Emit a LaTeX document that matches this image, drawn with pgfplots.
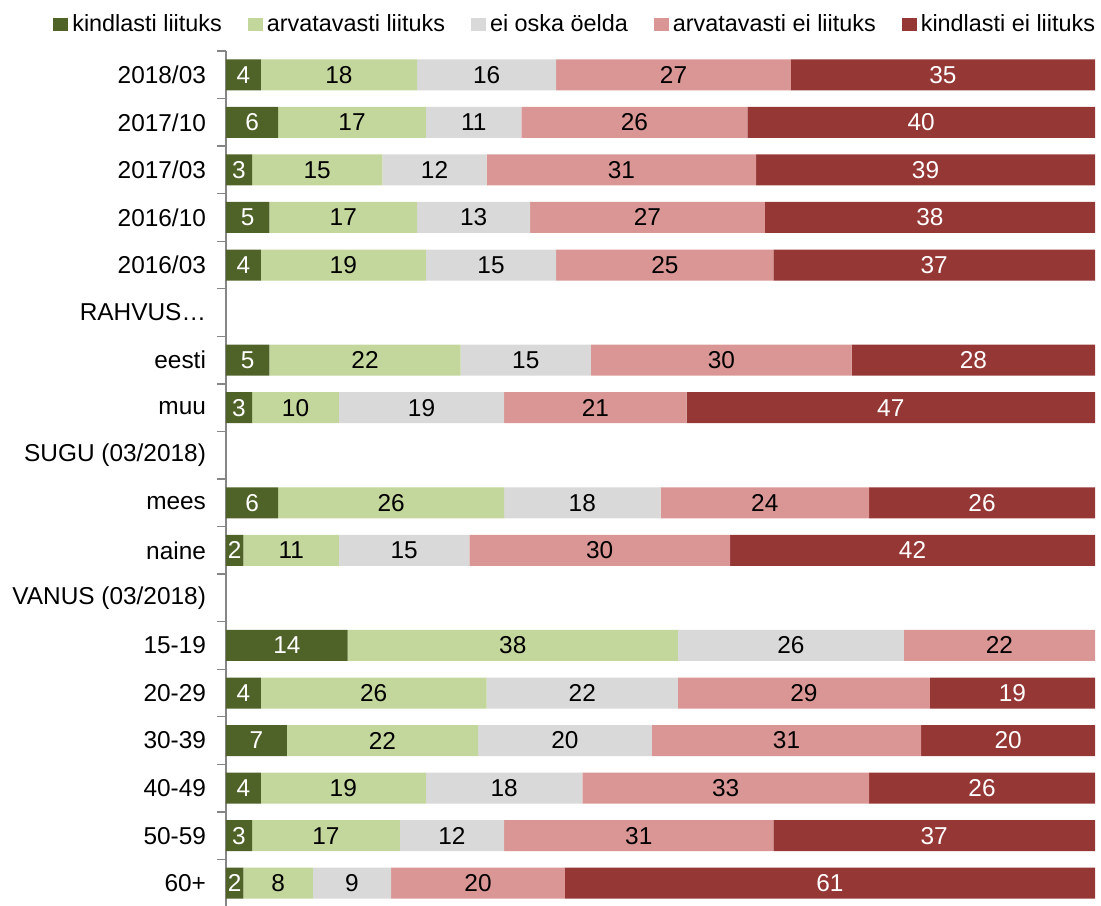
\documentclass[border=0pt]{standalone}
\usepackage{pgfplots}
\usepackage{pgfplotstable}
\pgfplotsset{compat=1.18}
\usetikzlibrary{calc}
\usepackage{fontspec}
\setmainfont{Liberation Sans}
\definecolor{cA}{HTML}{4F6228}
\definecolor{cB}{HTML}{C3D69B}
\definecolor{cC}{HTML}{D9D9D9}
\definecolor{cD}{HTML}{D99694}
\definecolor{cE}{HTML}{953735}
\definecolor{axg}{HTML}{868686}
\pgfplotstableread{
row a b c d e
0 4 18 16 27 35
1 6 17 11 26 40
2 3 15 12 31 39
3 5 17 13 27 38
4 4 19 15 25 37
6 5 22 15 30 28
7 3 10 19 21 47
9 6 26 18 24 26
10 2 11 15 30 42
12 14 38 26 22 0
13 4 26 22 29 19
14 7 22 20 31 20
15 4 19 18 33 26
16 3 17 12 31 37
17 2 8 9 20 61
}\data
\begin{document}
\begin{tikzpicture}
\begin{axis}[
  name=ax,
  scale only axis,
  width=434.5pt, height=428pt,
  xbar stacked,
  bar width=15.5pt,
  xmin=0, xmax=100,
  ymin=-0.5, ymax=17.5,
  y dir=reverse,
  clip=false,
  axis x line=none,
  axis y line*=left,
  y axis line style={draw=axg, line width=0.7pt},
  ytick=\empty,
  extra y ticks={0,...,17},
  extra y tick labels={2018/03,2017/10,2017/03,2016/10,2016/03,RAHVUS…,eesti,muu,SUGU (03/2018),mees,naine,VANUS (03/2018),15-19,20-29,30-39,40-49,50-59,60+},
  extra y tick style={/pgfplots/major tick length=0pt, yticklabel style={font=\fontsize{12.2}{14}\selectfont, xshift=-6.5pt}},
  nodes near coords,
  point meta=explicit,
  nodes near coords style={font=\fontsize{12.2}{14}\selectfont},
  /pgf/number format/assume math mode=true,
  legend columns=5,
  legend style={draw=none, fill=none, at={(0.403,1.031)}, anchor=center,
    font=\fontsize{11.7}{13}\selectfont,
    /tikz/every even column/.append style={column sep=11pt},
    inner sep=0pt},
  legend image code/.code={\fill[#1] (0pt,-3.25pt) rectangle (7.5pt,3.25pt);},
  legend cell align=left,
]
\addplot[fill=cA, draw=none, nodes near coords style={text=white}] table[x=a, y=row, meta=a] {\data};
\addplot[fill=cB, draw=none] table[x=b, y=row, meta=b] {\data};
\addplot[fill=cC, draw=none] table[x=c, y=row, meta=c] {\data};
\addplot[fill=cD, draw=none] table[x=d, y=row, meta=d] {\data};
\addplot[fill=cE, draw=none, nodes near coords style={text=white}] table[x=e, y=row, meta=e] {\data};
\legend{kindlasti liituks, arvatavasti liituks, ei oska öelda, arvatavasti ei liituks, kindlasti ei liituks}
\end{axis}
\foreach \k in {0,...,18}
  \draw[axg, line width=0.7pt] ($(ax.north west)!{\k/18}!(ax.south west)$) -- ++(-4.5pt,0);
\pgfresetboundingbox
\path ([xshift=-113pt,yshift=1pt]ax.south west) rectangle ([xshift=3pt,yshift=25.5pt]ax.north east);
\end{tikzpicture}
\end{document}
